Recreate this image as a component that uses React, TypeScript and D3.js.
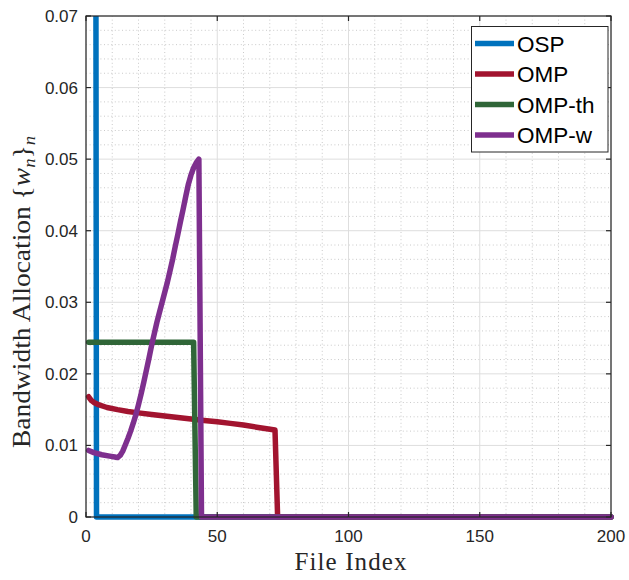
import React from "react";
import * as d3 from "d3";

// Bandwidth allocation per file index for each scheme: [file index, w_n]
const ospPoints: [number, number][] = [
  [1, 0.3333], [2, 0.3333], [3, 0.3333], [4, 0], [200, 0],
];

const ompPoints: [number, number][] = [
  [1, 0.0168], [2, 0.0163], [3, 0.016], [5, 0.01565], [8, 0.0153], [12, 0.015],
  [16, 0.01475], [20, 0.01455], [25, 0.01432], [30, 0.0141], [35, 0.0139],
  [40, 0.0137], [45, 0.01348], [50, 0.0133], [55, 0.01308], [60, 0.01285],
  [65, 0.01255], [72, 0.01215], [73, 0], [200, 0],
];

const ompThPoints: [number, number][] = [
  [1, 0.0244], [41, 0.0244], [42, 0], [200, 0],
];

const ompWPoints: [number, number][] = [
  [1, 0.0093], [3, 0.009], [6, 0.0087], [9, 0.0085], [11, 0.00838], [12, 0.0083],
  [13, 0.0086], [14, 0.0092], [15, 0.0101], [16, 0.011], [17, 0.012], [18, 0.0131],
  [19, 0.0143], [20, 0.0157], [21, 0.0172], [22, 0.0188], [23, 0.0205], [24, 0.0222],
  [25, 0.024], [26, 0.0256], [27, 0.0272], [28, 0.0286], [29, 0.03], [30, 0.0314],
  [31, 0.0328], [32, 0.0344], [33, 0.036], [34, 0.0378], [35, 0.0395], [36, 0.0413],
  [37, 0.043], [38, 0.0448], [39, 0.0465], [40, 0.0478], [41, 0.0488], [42, 0.0495],
  [43, 0.05], [44, 0], [200, 0],
];

const seriesNames = ["OSP", "OMP", "OMP-th", "OMP-w"];
const seriesColors = ["#0072BD", "#A2142F", "#306638", "#7E2F8E"];
const seriesData = [ospPoints, ompPoints, ompThPoints, ompWPoints];

const xTicks = [0, 50, 100, 150, 200];
const yTicks = [0, 0.01, 0.02, 0.03, 0.04, 0.05, 0.06, 0.07];
const xMinorStep = 10;
const yMinorStep = 0.002;

const W = 629;
const H = 580;
const left = 86;
const right = 611;
const top = 16;
const bottom = 517;

const axisColor = "#262626";
const sans = "'Liberation Sans', Arial, Helvetica, sans-serif";
const serif = "'Liberation Serif', 'Times New Roman', serif";

export default function App() {
  const x = d3.scaleLinear().domain([0, 200]).range([left, right]);
  const y = d3.scaleLinear().domain([0, 0.07]).range([bottom, top]);

  const line = d3
    .line<[number, number]>()
    .x((d) => x(d[0]))
    .y((d) => y(d[1]));

  const xMinor = d3.range(0, 200 + 1e-9, xMinorStep).filter((v) => v % 50 !== 0);
  const yMinor = d3
    .range(0, 0.07 + 1e-9, yMinorStep)
    .map((v) => +v.toFixed(4))
    .filter((v) => Math.abs(v * 100 - Math.round(v * 100)) > 1e-6);

  const tickLen = 5;

  return (
    <svg width={W} height={H} style={{ display: "block", position: "absolute", left: 0, top: 0 }}>
      <rect x={0} y={0} width={W} height={H} fill="#ffffff" />
      <defs>
        <clipPath id="plot-clip">
          <rect x={left - 4} y={top} width={right - left + 8} height={bottom - top + 4} />
        </clipPath>
      </defs>

      {/* minor grid */}
      <g stroke="#bdbdbd" strokeWidth={0.8} strokeDasharray="1 2.6">
        {xMinor.map((v) => (
          <line key={"xm" + v} x1={x(v)} x2={x(v)} y1={top} y2={bottom} />
        ))}
        {yMinor.map((v) => (
          <line key={"ym" + v} x1={left} x2={right} y1={y(v)} y2={y(v)} />
        ))}
      </g>

      {/* major grid */}
      <g stroke="#dedede" strokeWidth={1}>
        {xTicks.map((v) => (
          <line key={"xg" + v} x1={x(v)} x2={x(v)} y1={top} y2={bottom} />
        ))}
        {yTicks.map((v) => (
          <line key={"yg" + v} x1={left} x2={right} y1={y(v)} y2={y(v)} />
        ))}
      </g>

      {/* series */}
      <g clipPath="url(#plot-clip)" fill="none" strokeWidth={5.5} strokeLinejoin="round" strokeLinecap="round">
        {seriesData.map((pts, i) => (
          <path key={seriesNames[i]} d={line(pts) || ""} stroke={seriesColors[i]} />
        ))}
      </g>

      {/* axes box and ticks */}
      <g stroke={axisColor} strokeWidth={1.2} fill="none">
        <rect x={left} y={top} width={right - left} height={bottom - top} />
        {xTicks.map((v) => (
          <g key={"xt" + v}>
            <line x1={x(v)} x2={x(v)} y1={bottom} y2={bottom - tickLen} />
            <line x1={x(v)} x2={x(v)} y1={top} y2={top + tickLen} />
          </g>
        ))}
        {yTicks.map((v) => (
          <g key={"yt" + v}>
            <line x1={left} x2={left + tickLen} y1={y(v)} y2={y(v)} />
            <line x1={right} x2={right - tickLen} y1={y(v)} y2={y(v)} />
          </g>
        ))}
      </g>

      {/* tick labels */}
      <g fill={axisColor} fontFamily={sans} fontSize={17}>
        {xTicks.map((v) => (
          <text key={"xl" + v} x={x(v)} y={542} textAnchor="middle">
            {String(v)}
          </text>
        ))}
        {yTicks.map((v) => (
          <text key={"yl" + v} x={78} y={y(v) + 6} textAnchor="end">
            {v === 0 ? "0" : v.toFixed(2)}
          </text>
        ))}
      </g>

      {/* axis labels */}
      <text x={(left + right) / 2 + 2} y={570} textAnchor="middle" fontFamily={serif} fontSize={25}
        fill={axisColor} textLength={112} lengthAdjust="spacing">
        File Index
      </text>
      <text transform={`translate(30, 448) rotate(-90)`} fontFamily={serif} fontSize={25} fill={axisColor}
        textLength={312} lengthAdjust="spacingAndGlyphs">
        <tspan>Bandwidth Allocation {"{"}</tspan>
        <tspan fontStyle="italic">w</tspan>
        <tspan fontStyle="italic" fontSize={17} dy={5}>n</tspan>
        <tspan dy={-5}>{"}"}</tspan>
        <tspan fontStyle="italic" fontSize={17} dy={5}>n</tspan>
      </text>

      {/* legend */}
      <g>
        <rect x={471.5} y={26.5} width={136.5} height={125.5} fill="#ffffff" stroke={axisColor} strokeWidth={1} />
        {seriesNames.map((name, i) => {
          const cy = 43.5 + i * 30.5;
          return (
            <g key={"lg" + name}>
              <line x1={475} x2={514} y1={cy} y2={cy} stroke={seriesColors[i]} strokeWidth={5.5} />
              <text x={517} y={cy + 8} fontFamily={sans} fontSize={22.5} fill="#000000">
                {name}
              </text>
            </g>
          );
        })}
      </g>
    </svg>
  );
}
